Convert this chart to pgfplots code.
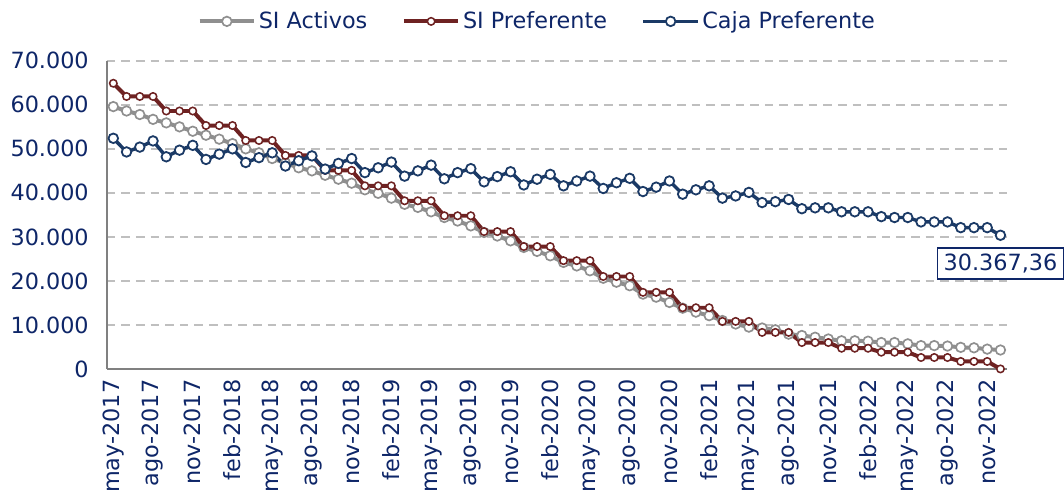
\documentclass[border=0pt]{standalone}
\usepackage{pgfplots}
\pgfplotsset{compat=1.18}
\usepackage{pgfplotstable}
\usepackage{fontspec}
\setmainfont{DejaVu Sans}
\definecolor{gris}{RGB}{143,143,143}
\definecolor{granate}{RGB}{110,34,34}
\definecolor{azul}{RGB}{27,58,102}
\definecolor{texto}{RGB}{14,38,104}
\definecolor{rejilla}{RGB}{191,191,191}
\definecolor{eje}{RGB}{128,128,128}

% mes 0 = may-2017 ... mes 67 = dic-2022
\pgfplotstableread{
mes activos preferente caja
0  59600 64900 52400
1  58600 61900 49300
2  57800 61900 50400
3  56700 61900 51800
4  55900 58600 48200
5  55000 58600 49700
6  54000 58600 50800
7  53100 55300 47600
8  52200 55300 48800
9  51200 55300 50000
10 50000 51900 46900
11 49100 51900 48000
12 47800 51900 49100
13 46800 48500 46100
14 45700 48500 47300
15 45000 48500 48400
16 44000 45100 45400
17 43100 45100 46700
18 42200 45100 47800
19 40700 41600 44600
20 39900 41600 45700
21 38800 41600 47000
22 37400 38200 43800
23 36700 38200 45000
24 35700 38200 46300
25 34400 34800 43200
26 33600 34800 44600
27 32500 34800 45500
28 31000 31200 42500
29 30200 31200 43700
30 29100 31200 44800
31 27600 27800 41800
32 26700 27800 43100
33 25700 27800 44200
34 24200 24600 41600
35 23400 24600 42700
36 22300 24600 43800
37 20600 21000 41000
38 19700 21000 42300
39 18900 21000 43300
40 17000 17400 40300
41 16300 17400 41300
42 15100 17400 42700
43 13800 13900 39700
44 12900 13900 40700
45 12100 13900 41600
46 11000 10800 38800
47 10200 10800 39300
48 9500  10800 40100
49 9300  8300  37800
50 8900  8300  38000
51 7900  8300  38500
52 7600  6000  36400
53 7200  6000  36600
54 6800  6000  36600
55 6400  4700  35700
56 6400  4700  35700
57 6300  4700  35700
58 6000  3800  34600
59 6000  3800  34400
60 5700  3800  34400
61 5300  2600  33400
62 5300  2600  33400
63 5200  2600  33400
64 4900  1700  32100
65 4800  1700  32100
66 4500  1700  32100
67 4300  0     30367.36
}\datos

\begin{document}
\begin{tikzpicture}[font=\fontsize{16.8}{20}\selectfont]
\begin{axis}[
    at={(0,0)}, anchor=south west,
    scale only axis, width=677.25pt, height=231.75pt,
    xmin=-0.5, xmax=67.5, ymin=0, ymax=70000,
    axis x line*=bottom, axis y line*=left,
    axis line style={eje, line width=1.6pt, -},
    major tick length=0pt,
    xtick={0,3,...,66},
    xticklabels={may-2017,ago-2017,nov-2017,feb-2018,may-2018,ago-2018,nov-2018,feb-2019,may-2019,ago-2019,nov-2019,feb-2020,may-2020,ago-2020,nov-2020,feb-2021,may-2021,ago-2021,nov-2021,feb-2022,may-2022,ago-2022,nov-2022},
    xticklabel style={rotate=90, anchor=east},
    xticklabel shift=4.5pt,
    ytick={0,10000,...,70000},
    scaled y ticks=false,
    yticklabels={0,10.000,20.000,30.000,40.000,50.000,60.000,70.000},
    yticklabel shift=10pt,
    tick label style={font=\fontsize{16.8}{20}\selectfont, text=texto},
    /pgf/number format/assume math mode=true,
    ymajorgrids,
    grid style={rejilla, line width=1.5pt, dash pattern=on 6.5pt off 4.5pt},
    clip=false,
    legend columns=3,
    legend style={draw=none, fill=none, at={(0.4785,1.128)}, anchor=center,
        font=\fontsize{16.8}{20}\selectfont, text=texto,
        /tikz/every even column/.append style={column sep=24pt}},
    legend image code/.code={\draw[mark repeat=2,mark phase=2] plot coordinates {(0pt,0pt)(20.5pt,0pt)(41pt,0pt)};},
]
\addplot[gris, line width=3pt, mark=*, mark size=3.6pt,
    mark options={solid, fill=white, draw=gris, line width=1.25pt}]
    table[x=mes, y=activos] {\datos};
\addlegendentry{SI Activos}
\addplot[granate, line width=3pt, mark=*, mark size=2.8pt,
    mark options={solid, fill=white, draw=granate, line width=1.15pt}]
    table[x=mes, y=preferente] {\datos};
\addlegendentry{SI Preferente}
\addplot[azul, line width=2.6pt, mark=*, mark size=3.6pt,
    mark options={solid, fill=white, draw=azul, line width=1.35pt}]
    table[x=mes, y=caja] {\datos};
\addlegendentry{Caja Preferente}
\node[draw=texto, line width=1.1pt, fill=white, text=texto, anchor=north,
    font=\fontsize{16.8}{20}\selectfont,
    inner xsep=4.5pt, inner ysep=4.5pt, yshift=-9pt]
    at (axis cs:67,30367.36) {30.367,36};
\end{axis}
\path[use as bounding box] (-80.25pt,-93.75pt) rectangle (717.75pt,277.5pt);
\end{tikzpicture}
\end{document}
